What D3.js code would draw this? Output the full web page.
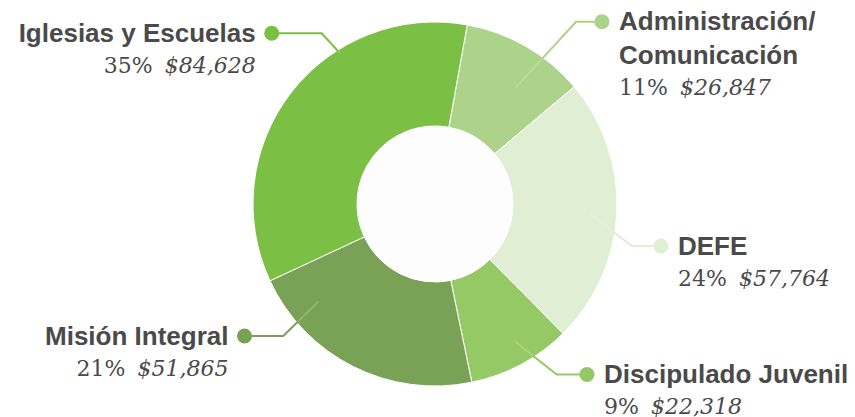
<!DOCTYPE html>
<html>
<head>
<meta charset="utf-8">
<script src="https://cdn.jsdelivr.net/npm/d3@7"></script>
<style>
  html, body { margin: 0; padding: 0; background: #ffffff; }
  svg { display: block; }
</style>
</head>
<body>
<svg id="chart" width="855" height="417"></svg>
<script>
// ---- data ----
const categories = ["Administración/Comunicación", "DEFE", "Discipulado Juvenil", "Misión Integral", "Iglesias y Escuelas"];
const labelLines = [["Administración/", "Comunicación"], ["DEFE"], ["Discipulado Juvenil"], ["Misión Integral"], ["Iglesias y Escuelas"]];
const values = [26847, 57764, 22318, 51865, 84628];
const colors = ["#add38a", "#e0eed4", "#95c966", "#79a257", "#7bbf44"];

// ---- layout (annotation placement) ----
const W = 855, H = 417;
const cx = 435, cy = 204, outerR = 182, innerR = 78;
const startDeg = 10.2;
// per-label: side, dot position, elbow x, inner end of leader (polar, deg clockwise from top)
const labelLayout = [
  { side: "right", dot: [602, 21.7], elbowX: 576,   innerA: 34.7,  innerR: 141 },
  { side: "right", dot: [661, 246],  elbowX: 631.7, innerA: 93.4,  innerR: 155 },
  { side: "right", dot: [587, 374.5],elbowX: 556.7, innerA: 149.8, innerR: 159 },
  { side: "left",  dot: [244.5, 336],elbowX: 283.3, innerA: 230.1, innerR: 152 },
  { side: "left",  dot: [271.7, 33.3],elbowX: 321.7, innerA: 327.8, innerR: 178 }
];

const svg = d3.select("#chart");
const total = d3.sum(values);
const pct = d3.format(".0%");
const money = d3.format("$,");

const pie = d3.pie().sort(null).value(d => d)
  .startAngle(startDeg * Math.PI / 180)
  .endAngle(startDeg * Math.PI / 180 + 2 * Math.PI);
const arcs = pie(values);
const arc = d3.arc().innerRadius(innerR).outerRadius(outerR);

const g = svg.append("g").attr("transform", `translate(${cx},${cy})`);

// clip to annulus for the inner part of leader lines
const defs = svg.append("defs");
defs.append("clipPath").attr("id", "ring")
  .append("path")
  .attr("transform", `translate(${cx},${cy})`)
  .attr("d", d3.arc().innerRadius(innerR).outerRadius(outerR - 1).startAngle(0).endAngle(2 * Math.PI)());

g.selectAll("path.slice")
  .data(arcs)
  .join("path")
  .attr("class", "slice")
  .attr("d", arc)
  .attr("fill", (d, i) => colors[i])
  .attr("stroke", "#ffffff")
  .attr("stroke-width", 1);

// inner white disc
g.append("circle").attr("r", innerR).attr("fill", "#fdfdfd");

function polar(aDeg, r) {
  const a = aDeg * Math.PI / 180;
  return [cx + r * Math.sin(a), cy - r * Math.cos(a)];
}

const leaders = labelLayout.map((L, i) => {
  const p0 = polar(L.innerA, L.innerR);
  return [p0, [L.elbowX, L.dot[1]], L.dot];
});

const line = d3.line();
svg.append("g").selectAll("path")
  .data(leaders)
  .join("path")
  .attr("d", d => line(d))
  .attr("fill", "none")
  .attr("stroke", (d, i) => colors[i])
  .attr("stroke-width", 2);

svg.append("g").attr("clip-path", "url(#ring)").selectAll("path")
  .data(leaders)
  .join("path")
  .attr("d", d => line(d))
  .attr("fill", "none")
  .attr("stroke", "#ffffff")
  .attr("stroke-opacity", 0.18)
  .attr("stroke-width", 2);

svg.append("g").selectAll("circle")
  .data(labelLayout)
  .join("circle")
  .attr("cx", d => d.dot[0])
  .attr("cy", d => d.dot[1])
  .attr("r", 7.5)
  .attr("fill", (d, i) => colors[i]);

// labels
const textColor = "#4a4a4a";
labelLayout.forEach((L, i) => {
  const right = L.side === "right";
  const x = right ? L.dot[0] + 17 : L.dot[0] - 16;
  const anchor = right ? "start" : "end";
  const base = L.dot[1] + 8.5;
  const lines = labelLines[i];
  lines.forEach((s, k) => {
    svg.append("text")
      .attr("x", x).attr("y", base + k * 34)
      .attr("text-anchor", anchor)
      .attr("font-family", "'Liberation Sans', Arial, Helvetica, sans-serif")
      .attr("font-weight", "bold")
      .attr("font-size", 26)
      .attr("fill", textColor)
      .text(s);
  });
  const vy = base + (lines.length - 1) * 34 + 31;
  const t = svg.append("text")
    .attr("x", x).attr("y", vy)
    .attr("text-anchor", anchor)
    .attr("font-family", "'DejaVu Serif', serif")
    .attr("font-size", 22)
    .attr("fill", textColor);
  t.append("tspan").text(pct(values[i] / total));
  t.append("tspan").attr("dx", 12).attr("font-style", "italic").text(money(values[i]));
});
</script>
</body>
</html>
